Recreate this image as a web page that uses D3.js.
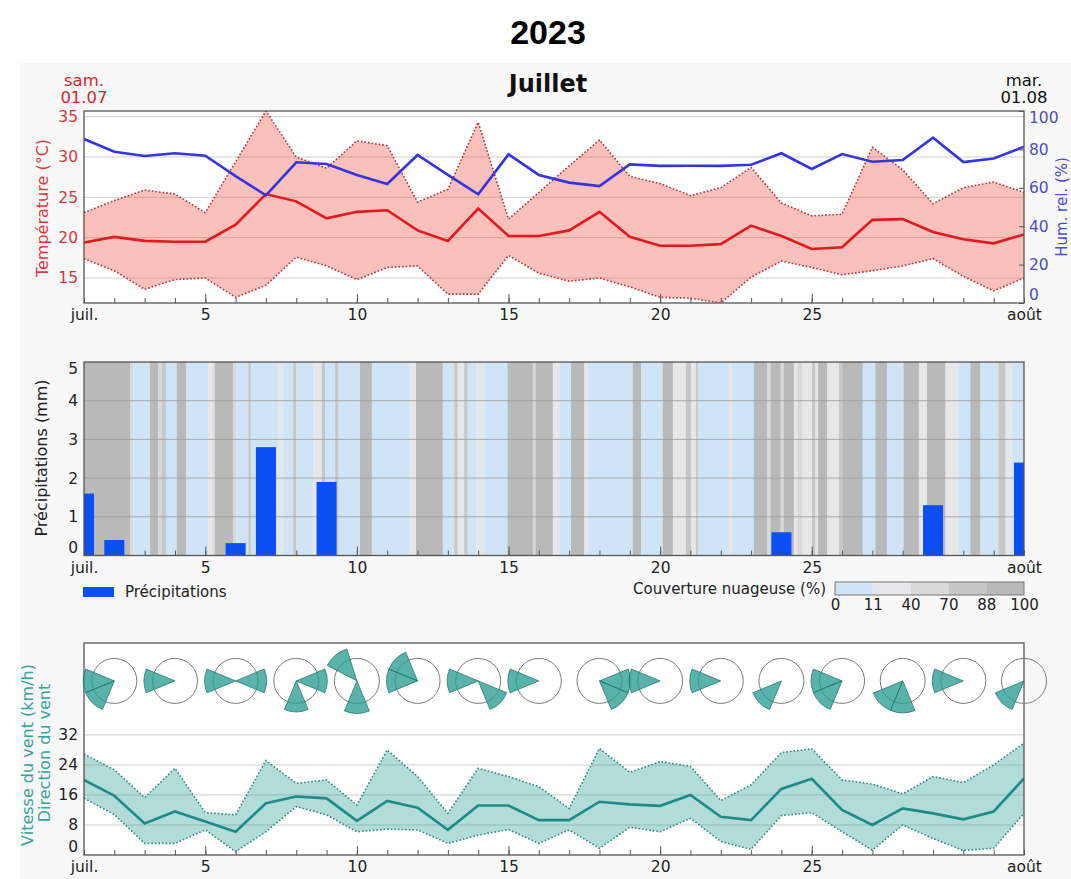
<!DOCTYPE html>
<html>
<head>
<meta charset="utf-8">
<script src="https://cdn.jsdelivr.net/npm/d3@7"></script>
<style>
body { margin: 0; background: #fff; }
svg text { font-family: "DejaVu Sans", sans-serif; }
</style>
</head>
<body>
<div class="meteo"></div>
<script>
// jours : 1 = 1 juil., 32 = 1 août
const days = d3.range(1, 33);
const xTickDays = [1, 5, 10, 15, 20, 25, 32];
const xTickLabels = ['juil.', '5', '10', '15', '20', '25', 'août'];

const tempMean = [19.4,20.1,19.6,19.5,19.5,21.6,25.4,24.5,22.4,23.2,23.4,20.9,19.6,23.6,20.2,20.2,20.9,23.2,20.1,19.0,19.0,19.2,21.5,20.2,18.6,18.8,22.2,22.3,20.7,19.8,19.3,20.4];
const tempMax = [23.1,24.6,25.9,25.4,23.1,29.4,35.7,30.0,28.6,32.0,31.4,24.4,26.0,34.3,22.3,25.6,28.9,32.1,27.6,26.7,25.2,26.2,28.7,24.3,22.7,22.9,31.2,28.4,24.2,26.2,26.9,25.6];
const tempMin = [17.4,15.9,13.6,14.8,15.0,12.6,14.1,17.6,16.5,14.8,16.3,16.5,13.0,13.0,17.8,15.6,14.6,15.0,13.9,12.6,12.5,11.9,15.1,17.1,16.3,15.4,15.9,16.5,17.4,15.2,13.4,15.0];
const humidity = [85.4,78.8,76.6,78.0,76.7,66.1,56.1,73.3,72.4,66.7,62.0,77.1,66.7,56.6,77.4,66.7,62.7,60.9,72.2,71.4,71.5,71.4,72.0,78.0,69.8,77.6,73.6,74.5,86.1,73.4,75.3,81.4];
const tempTicks = [15, 20, 25, 30, 35];
const humTicks = [0, 20, 40, 60, 80, 100];

const precip = [1.6,0.4,0,0,0,0.32,2.8,0,1.9,0,0,0,0,0,0,0,0,0,0,0,0,0,0,0.6,0,0,0,0,1.3,0,0,2.4];
const precipTicks = [0, 1, 2, 3, 4, 5];

// couverture nuageuse : début de chaque plage (jours depuis le 1er juil. 0h) et valeur (%)
const cloudStart = [0,1.52,1.63,2.18,2.45,2.56,2.70,3.06,3.36,4.10,4.26,4.32,4.92,5.03,5.42,5.50,6.41,6.57,6.90,7.00,7.56,7.84,7.95,8.28,8.39,9.10,9.49,10.73,10.95,11.83,12.21,12.32,12.54,12.65,12.93,13.20,13.97,14.80,14.89,15.46,15.68,16.06,16.50,16.60,18.10,18.37,19.09,19.42,19.85,20.02,20.18,20.24,21.26,21.37,22.09,22.53,22.64,22.97,23.08,23.41,23.52,23.68,24.01,24.12,24.21,24.51,24.90,25.02,25.68,26.10,26.48,27.03,27.53,27.80,28.41,28.85,29.23,29.56,30.16,30.39,30.61];
const cloudCover = [95,55,5,95,55,80,5,95,5,25,55,95,55,5,80,5,25,5,80,5,25,80,5,80,5,95,5,25,95,5,80,25,80,5,25,5,95,55,95,25,5,95,25,5,95,5,95,25,80,25,80,5,25,5,95,55,95,55,95,25,55,25,80,25,95,25,80,95,5,95,5,95,25,95,25,5,95,5,80,25,5];
const cloudBreaks = [0, 11, 40, 70, 88, 100];
const cloudColors = ['#cfe5f7', '#e7e7ea', '#d9d9d9', '#c7c7c7', '#b9b9b9'];

const windMean = [20.0,15.8,8.4,11.6,8.9,6.2,13.8,15.6,15.1,9.1,14.4,12.6,6.7,13.2,13.2,9.3,9.3,14.2,13.5,13.1,16.0,10.2,9.3,17.6,20.3,12.0,8.0,12.4,11.1,9.5,11.6,20.4];
const windMax = [26.9,22.7,15.3,23.1,11.3,10.7,25.2,19.1,20.0,13.3,28.0,20.9,11.1,23.1,20.9,18.2,12.4,28.4,22.0,24.9,23.6,14.5,18.7,27.3,28.3,20.0,18.9,16.3,20.9,19.3,24.0,29.8];
const windMin = [15.1,10.8,3.1,3.1,6.7,0.9,6.2,12.9,10.7,6.2,6.9,6.7,3.1,5.3,6.8,3.1,6.7,1.8,7.4,6.2,9.8,3.6,1.5,10.5,11.3,6.2,1.3,8.0,4.4,1.2,1.8,11.1];
const windTicks = [0, 8, 16, 24, 32];

// roses des vents tous les 2 jours : [direction (°), fréquence]
const roseDays = [2,4,6,8,10,12,14,16,18,20,22,24,26,28,30,32];
const roseSectors = [
	[[270,1],[225,1]], [[270,1]], [[270,1],[90,1]], [[90,1],[180,1]],
	[[320,1.08],[180,1.05]], [[270,1],[315,1]], [[270,1],[135,1]], [[270,1]],
	[[90,1],[135,1]], [[270,1]], [[270,1]], [[225,1]],
	[[270,1],[225,1]], [[180,1.03],[225,1.03]], [[270,1]], [[225,1]]
];

const width = 1071;
const height = 879;
const svg = d3.select('.meteo')
	.append('svg')
	.attr('width', width)
	.attr('height', height);

svg.append('rect')
	.attr('x', 20).attr('y', 63)
	.attr('width', width - 20).attr('height', height - 63)
	.attr('fill', '#f8f8f8');

svg.append('text')
	.attr('x', 548).attr('y', 44)
	.attr('text-anchor', 'middle')
	.attr('font-size', 34).attr('font-weight', 'bold')
	.style('font-family', '"Liberation Sans", Arial, sans-serif')
	.text('2023');

svg.append('text')
	.attr('x', 548).attr('y', 92)
	.attr('text-anchor', 'middle')
	.attr('font-size', 24).attr('font-weight', 'bold')
	.attr('fill', '#111')
	.text('Juillet');

const x = d3.scaleLinear().domain([1, 32]).range([84, 1024]);
const yTemp = d3.scaleLinear().domain([d3.min(tempMin), d3.max(tempMax)]).range([303, 111]);
const yHum = d3.scaleLinear().domain([0, 100]).range([303, 111]);
const yRain = d3.scaleLinear().domain([0, 5]).range([555.5, 362]);
const yWind = d3.scaleLinear().domain([0, 56.5]).range([855, 643]);
const rRose = d3.scaleLinear().domain([0, 1]).range([0, 31]);
const roseLevel = 46.4;
const cloudColor = d3.scaleThreshold().domain(cloudBreaks.slice(1, -1)).range(cloudColors);

svg.append('text').attr('x', x(1)).attr('y', 86).attr('text-anchor', 'middle')
	.attr('font-size', 16.5).attr('fill', '#d62728').text('sam.');
svg.append('text').attr('x', x(1)).attr('y', 103).attr('text-anchor', 'middle')
	.attr('font-size', 16.5).attr('fill', '#d62728').text('01.07');
svg.append('text').attr('x', x(32)).attr('y', 86).attr('text-anchor', 'middle')
	.attr('font-size', 16.5).attr('fill', '#111').text('mar.');
svg.append('text').attr('x', x(32)).attr('y', 103).attr('text-anchor', 'middle')
	.attr('font-size', 16.5).attr('fill', '#111').text('01.08');

function panel(name, y) {
	const [top, bottom] = y.range().slice().reverse();
	const g = svg.append('g').attr('class', name);
	g.append('rect')
		.attr('x', x(1)).attr('y', top)
		.attr('width', x(32) - x(1)).attr('height', bottom - top)
		.attr('fill', '#fff');
	g.append('clipPath').attr('id', 'clip-' + name)
		.append('rect')
		.attr('x', x(1)).attr('y', top)
		.attr('width', x(32) - x(1)).attr('height', bottom - top);
	return g;
}

function frame(g, y) {
	const [top, bottom] = y.range().slice().reverse();
	// petites graduations journalières
	g.append('g')
		.attr('transform', 'translate(0,' + bottom + ')')
		.call(d3.axisBottom(x).tickValues(days).tickSize(-5).tickFormat(''))
		.call(a => a.select('.domain').remove())
		.selectAll('line').attr('stroke', '#555');
	g.append('g')
		.attr('transform', 'translate(0,' + bottom + ')')
		.call(d3.axisBottom(x).tickValues([5, 10, 15, 20, 25]).tickSize(-9).tickFormat(''))
		.call(a => a.select('.domain').remove())
		.selectAll('line').attr('stroke', '#555');
	g.append('g')
		.attr('transform', 'translate(0,' + bottom + ')')
		.attr('class', 'xlabels')
		.call(d3.axisBottom(x).tickValues(xTickDays).tickSize(0).tickPadding(6)
			.tickFormat((d, i) => xTickLabels[i]))
		.call(a => a.select('.domain').remove())
		.call(a => a.selectAll('text').attr('font-size', 15.5).attr('fill', '#222').style('font-family', '"DejaVu Sans", sans-serif'));
	g.append('rect')
		.attr('x', x(1)).attr('y', top)
		.attr('width', x(32) - x(1)).attr('height', bottom - top)
		.attr('fill', 'none').attr('stroke', '#555').attr('stroke-width', 1.3);
}

function yLabels(g, axis, color, xpos) {
	const a = g.append('g')
		.attr('transform', 'translate(' + xpos + ',0)')
		.call(axis.tickFormat(d3.format('d')))
		.call(s => s.select('.domain').remove());
	a.selectAll('text')
		.attr('font-size', 15.5).attr('fill', color)
		.style('font-family', '"DejaVu Sans", sans-serif');
	return a;
}

// étiquettes extrêmes ramenées dans le cadre
function nudge(a, y) {
	const [lo, hi] = y.range();
	a.selectAll('.tick').each(function(d) {
		const py = y(d);
		if (Math.abs(py - lo) < 2) d3.select(this).select('text').attr('dy', '-0.2em');
		if (Math.abs(py - hi) < 2) d3.select(this).select('text').attr('dy', '0.72em');
	});
}

function yTitle(text, xpos, ypos, color) {
	svg.append('text')
		.attr('transform', 'translate(' + xpos + ',' + ypos + ') rotate(-90)')
		.attr('text-anchor', 'middle')
		.attr('font-size', 16).attr('fill', color)
		.text(text);
}

// ---- températures / humidité ----
const gT = panel('temp', yTemp);
gT.selectAll('line.grid')
	.data(tempTicks)
	.enter()
	.append('line')
	.attr('class', 'grid')
	.attr('x1', x(1)).attr('x2', x(32))
	.attr('y1', d => yTemp(d)).attr('y2', d => yTemp(d))
	.attr('stroke', '#cfcfcf').attr('stroke-width', 1);

const gTc = gT.append('g').attr('clip-path', 'url(#clip-temp)');
gTc.append('path')
	.datum(days)
	.attr('fill', 'rgba(240,80,70,0.36)')
	.attr('d', d3.area().x(d => x(d)).y0((d, i) => yTemp(tempMin[i])).y1((d, i) => yTemp(tempMax[i])));
[tempMax, tempMin].forEach(s => {
	gTc.append('path')
		.datum(days)
		.attr('fill', 'none').attr('stroke', '#b5303a').attr('stroke-width', 1.6)
		.attr('stroke-dasharray', '1.6,2')
		.attr('d', d3.line().x(d => x(d)).y((d, i) => yTemp(s[i])));
});
gTc.append('path')
	.datum(days)
	.attr('fill', 'none').attr('stroke', '#e3191f').attr('stroke-width', 2.6)
	.attr('d', d3.line().x(d => x(d)).y((d, i) => yTemp(tempMean[i])));
gTc.append('path')
	.datum(days)
	.attr('fill', 'none').attr('stroke', '#3434e0').attr('stroke-width', 2.6)
	.attr('d', d3.line().x(d => x(d)).y((d, i) => yHum(humidity[i])));
frame(gT, yTemp);
const aTemp = yLabels(gT, d3.axisLeft(yTemp).tickValues(tempTicks).tickSize(0).tickPadding(6), '#d9363e', x(1));
const aHum = yLabels(gT, d3.axisRight(yHum).tickValues(humTicks).tickSize(-5).tickPadding(5), '#4d4dc6', x(32));
aHum.selectAll('line').attr('stroke', '#555');
nudge(aHum, yHum);
yTitle('Température (°C)', 48, 208, '#e0383c');
svg.append('text')
	.attr('transform', 'translate(1067,207) rotate(-90)')
	.attr('text-anchor', 'middle')
	.attr('font-size', 15).attr('fill', '#4d4dd6')
	.text('Hum. rel. (%)');

// ---- précipitations / nuages ----
const gR = panel('rain', yRain);
const gRc = gR.append('g').attr('clip-path', 'url(#clip-rain)');
gRc.selectAll('rect.cloud')
	.data(cloudStart)
	.enter()
	.append('rect')
	.attr('class', 'cloud')
	.attr('x', d => x(1 + d))
	.attr('width', (d, i) => x(1 + (i + 1 < cloudStart.length ? cloudStart[i + 1] : 31)) - x(1 + d) + 0.3)
	.attr('y', yRain(5)).attr('height', yRain(0) - yRain(5))
	.attr('fill', (d, i) => cloudColor(cloudCover[i]));
gRc.selectAll('line.grid')
	.data(precipTicks.slice(1, -1))
	.enter()
	.append('line')
	.attr('class', 'grid')
	.attr('x1', x(1)).attr('x2', x(32))
	.attr('y1', d => yRain(d)).attr('y2', d => yRain(d))
	.attr('stroke', '#9a9a9a').attr('stroke-width', 0.8);
const barW = x(1.66) - x(1);
gRc.selectAll('rect.bar')
	.data(days.filter((d, i) => precip[i] > 0))
	.enter()
	.append('rect')
	.attr('class', 'bar')
	.attr('x', d => x(d) - barW / 2)
	.attr('width', barW)
	.attr('y', d => yRain(precip[d - 1]))
	.attr('height', d => yRain(0) - yRain(precip[d - 1]))
	.attr('fill', '#0b4ff2');
frame(gR, yRain);
const aRain = yLabels(gR, d3.axisLeft(yRain).tickValues(precipTicks).tickSize(0).tickPadding(6), '#222', x(1));
nudge(aRain, yRain);
yTitle('Précipitations (mm)', 47, 458, '#222');

// légende précipitations
svg.append('rect').attr('x', 83).attr('y', 587).attr('width', 31).attr('height', 10).attr('fill', '#0b4ff2');
svg.append('text').attr('x', 125).attr('y', 597).attr('font-size', 15).attr('fill', '#222').text('Précipitations');

// barre de couleurs couverture nuageuse
const cb = d3.scalePoint().domain(cloudBreaks).range([835, 1024]);
svg.selectAll('rect.cbar')
	.data(cloudColors)
	.enter()
	.append('rect')
	.attr('class', 'cbar')
	.attr('x', (d, i) => cb(cloudBreaks[i]))
	.attr('width', (d, i) => cb(cloudBreaks[i + 1]) - cb(cloudBreaks[i]))
	.attr('y', 582).attr('height', 13)
	.attr('fill', d => d);
svg.append('rect').attr('x', 835).attr('y', 582).attr('width', 189).attr('height', 13)
	.attr('fill', 'none').attr('stroke', '#777').attr('stroke-width', 1);
svg.append('g')
	.attr('transform', 'translate(0,595)')
	.call(d3.axisBottom(cb).tickSize(0).tickPadding(4))
	.call(a => a.select('.domain').remove())
	.call(a => a.selectAll('text').attr('font-size', 15).attr('fill', '#222').style('font-family', '"DejaVu Sans", sans-serif'));
svg.append('text').attr('x', 826).attr('y', 594).attr('text-anchor', 'end')
	.attr('font-size', 15).attr('fill', '#222').text('Couverture nuageuse (%)');

// ---- vent ----
const gW = panel('wind', yWind);
gW.selectAll('line.grid')
	.data(windTicks.slice(1))
	.enter()
	.append('line')
	.attr('class', 'grid')
	.attr('x1', x(1)).attr('x2', x(32))
	.attr('y1', d => yWind(d)).attr('y2', d => yWind(d))
	.attr('stroke', '#cfcfcf').attr('stroke-width', 1);
const gWc = gW.append('g').attr('clip-path', 'url(#clip-wind)');
gWc.append('path')
	.datum(days)
	.attr('fill', 'rgba(42,157,148,0.36)')
	.attr('d', d3.area().x(d => x(d)).y0((d, i) => yWind(windMin[i])).y1((d, i) => yWind(windMax[i])));
[windMax, windMin].forEach(s => {
	gWc.append('path')
		.datum(days)
		.attr('fill', 'none').attr('stroke', '#2b8a84').attr('stroke-width', 1.6)
		.attr('stroke-dasharray', '1.6,2')
		.attr('d', d3.line().x(d => x(d)).y((d, i) => yWind(s[i])));
});
gWc.append('path')
	.datum(days)
	.attr('fill', 'none').attr('stroke', '#1b8c86').attr('stroke-width', 2.6)
	.attr('d', d3.line().x(d => x(d)).y((d, i) => yWind(windMean[i])));
frame(gW, yWind);
const aWind = yLabels(gW, d3.axisLeft(yWind).tickValues(windTicks).tickSize(0).tickPadding(6), '#222', x(1));
nudge(aWind, yWind);
yTitle('Vitesse du vent (km/h)', 33, 755, '#38a39b');
yTitle('Direction du vent', 50, 753, '#38a39b');

const roses = svg.selectAll('g.rose')
	.data(roseDays)
	.enter()
	.append('g')
	.attr('class', 'rose')
	.attr('transform', d => 'translate(' + x(d) + ',' + yWind(roseLevel) + ')');
roses.append('circle')
	.attr('r', 22.5)
	.attr('fill', 'none').attr('stroke', '#7a7a7a').attr('stroke-width', 1);
const sector = d3.arc().innerRadius(0);
roses.selectAll('path')
	.data((d, i) => roseSectors[i])
	.enter()
	.append('path')
	.attr('d', s => sector({
		outerRadius: rRose(s[1]),
		startAngle: (s[0] - 22.5) * Math.PI / 180,
		endAngle: (s[0] + 22.5) * Math.PI / 180
	}))
	.attr('fill', '#2a9d94').attr('fill-opacity', 0.78)
	.attr('stroke', '#1d6b66').attr('stroke-width', 0.7);
</script>
</body>
</html>
